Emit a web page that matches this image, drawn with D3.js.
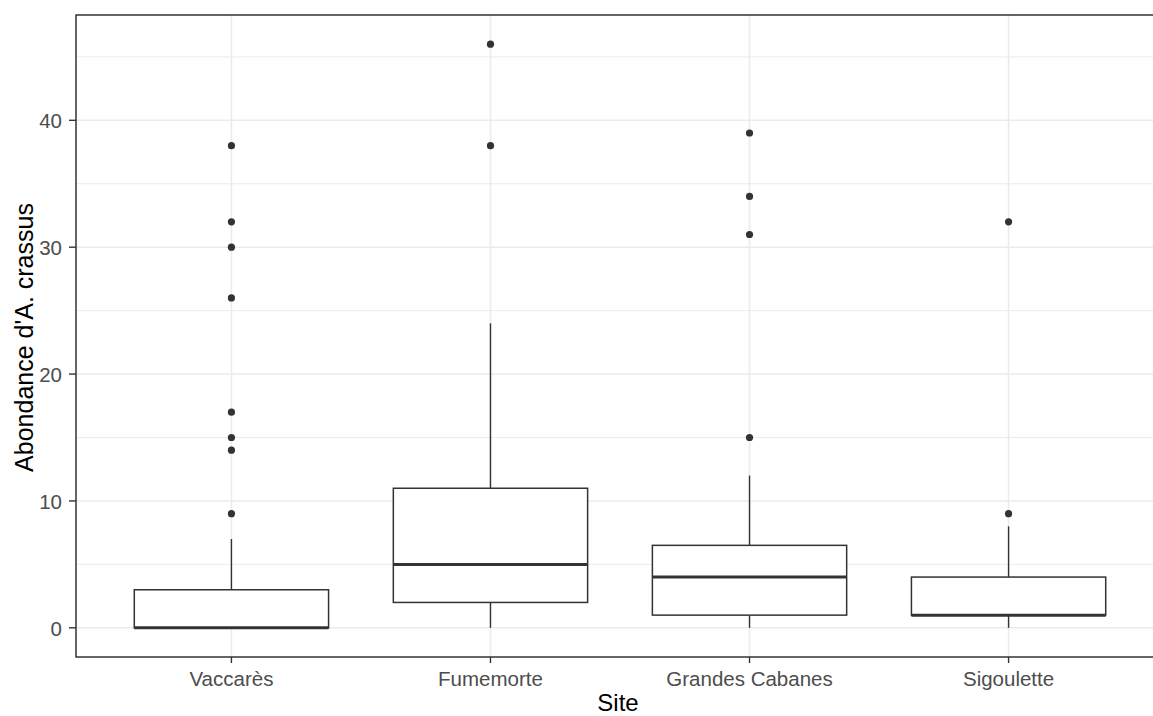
<!DOCTYPE html>
<html>
<head>
<meta charset="utf-8">
<script src="https://cdn.jsdelivr.net/npm/d3@7"></script>
<style>
  html, body { margin: 0; padding: 0; background: #fff; }
  svg { display: block; }
  text { font-family: "Liberation Sans", Arial, sans-serif; }
</style>
</head>
<body>
<svg id="chart" width="1153" height="716"></svg>
<script>
// Abundance of A. crassus per site: box statistics and outliers
const sites = ["Vaccarès", "Fumemorte", "Grandes Cabanes", "Sigoulette"];
const lowerWhisker = [0, 0, 0, 0];
const q1 = [0, 2, 1, 1];
const median = [0, 5, 4, 1];
const q3 = [3, 11, 6.5, 4];
const upperWhisker = [7, 24, 12, 8];
const outliers = [
  [9, 14, 15, 17, 26, 30, 32, 38],
  [38, 46],
  [15, 31, 34, 39],
  [9, 32]
];
const yTicks = [0, 10, 20, 30, 40];
const yMinor = [5, 15, 25, 35, 45];

const svg = d3.select("#chart");
const panel = { left: 76, top: 15, right: 1164, bottom: 657 };

// data range 0..46 with 5% expansion on both sides
const yMax = 46;
const y = d3.scaleLinear()
  .domain([-0.05 * yMax, yMax * 1.05])
  .range([panel.bottom, panel.top]);

// discrete positions with 0.6 step of padding at each end
const x = d3.scalePoint()
  .domain(sites)
  .range([panel.left, panel.right])
  .padding(0.6);
const boxW = x.step() * 0.75;

svg.append("defs").append("clipPath").attr("id", "pclip")
  .append("rect")
  .attr("x", panel.left).attr("y", panel.top)
  .attr("width", panel.right - panel.left).attr("height", panel.bottom - panel.top);

const g = svg.append("g").attr("clip-path", "url(#pclip)");

// grid
g.selectAll("line.minor").data(yMinor).join("line")
  .attr("class", "minor")
  .attr("x1", panel.left).attr("x2", panel.right)
  .attr("y1", d => y(d)).attr("y2", d => y(d))
  .attr("stroke", "#EBEBEB").attr("stroke-width", 1);
g.selectAll("line.major").data(yTicks).join("line")
  .attr("class", "major")
  .attr("x1", panel.left).attr("x2", panel.right)
  .attr("y1", d => y(d)).attr("y2", d => y(d))
  .attr("stroke", "#EBEBEB").attr("stroke-width", 1.6);
g.selectAll("line.vmajor").data(sites).join("line")
  .attr("class", "vmajor")
  .attr("x1", d => x(d)).attr("x2", d => x(d))
  .attr("y1", panel.top).attr("y2", panel.bottom)
  .attr("stroke", "#EBEBEB").attr("stroke-width", 1.6);

const col = "#333333";
sites.forEach((s, i) => {
  const c = x(s);
  // whiskers
  g.append("line").attr("x1", c).attr("x2", c)
    .attr("y1", y(q3[i])).attr("y2", y(upperWhisker[i]))
    .attr("stroke", col).attr("stroke-width", 1.4);
  g.append("line").attr("x1", c).attr("x2", c)
    .attr("y1", y(q1[i])).attr("y2", y(lowerWhisker[i]))
    .attr("stroke", col).attr("stroke-width", 1.4);
  // box
  g.append("rect")
    .attr("x", c - boxW / 2).attr("width", boxW)
    .attr("y", y(q3[i])).attr("height", y(q1[i]) - y(q3[i]))
    .attr("fill", "#fff").attr("stroke", col).attr("stroke-width", 1.5);
  // median
  g.append("line")
    .attr("x1", c - boxW / 2).attr("x2", c + boxW / 2)
    .attr("y1", y(median[i])).attr("y2", y(median[i]))
    .attr("stroke", col).attr("stroke-width", 3);
  // outliers
  g.selectAll(null).data(outliers[i]).join("circle")
    .attr("cx", c).attr("cy", d => y(d)).attr("r", 3.6)
    .attr("fill", col);
});

// panel border
svg.append("rect")
  .attr("x", panel.left).attr("y", panel.top)
  .attr("width", panel.right - panel.left).attr("height", panel.bottom - panel.top)
  .attr("fill", "none").attr("stroke", col).attr("stroke-width", 1.5);

// y axis
const yAxis = svg.append("g");
yAxis.selectAll("line").data(yTicks).join("line")
  .attr("x1", panel.left - 7).attr("x2", panel.left)
  .attr("y1", d => y(d)).attr("y2", d => y(d))
  .attr("stroke", col).attr("stroke-width", 1.4);
yAxis.selectAll("text").data(yTicks).join("text")
  .attr("x", 62).attr("y", d => y(d))
  .attr("dy", "0.38em").attr("text-anchor", "end")
  .attr("fill", "#4D4D4D").attr("font-size", 20.5)
  .text(d => d);

// x axis
const xAxis = svg.append("g");
xAxis.selectAll("line").data(sites).join("line")
  .attr("x1", d => x(d)).attr("x2", d => x(d))
  .attr("y1", panel.bottom).attr("y2", panel.bottom + 6)
  .attr("stroke", col).attr("stroke-width", 1.4);
xAxis.selectAll("text").data(sites).join("text")
  .attr("x", d => x(d)).attr("y", 686)
  .attr("text-anchor", "middle")
  .attr("fill", "#4D4D4D").attr("font-size", 20.5)
  .text(d => d);

// axis titles
svg.append("text")
  .attr("x", 618).attr("y", 711)
  .attr("text-anchor", "middle")
  .attr("fill", "#000").attr("font-size", 24)
  .text("Site");
svg.append("text")
  .attr("transform", `translate(33, 337.5) rotate(-90)`)
  .attr("text-anchor", "middle")
  .attr("fill", "#000").attr("font-size", 25)
  .text("Abondance d'A. crassus");
</script>
</body>
</html>
